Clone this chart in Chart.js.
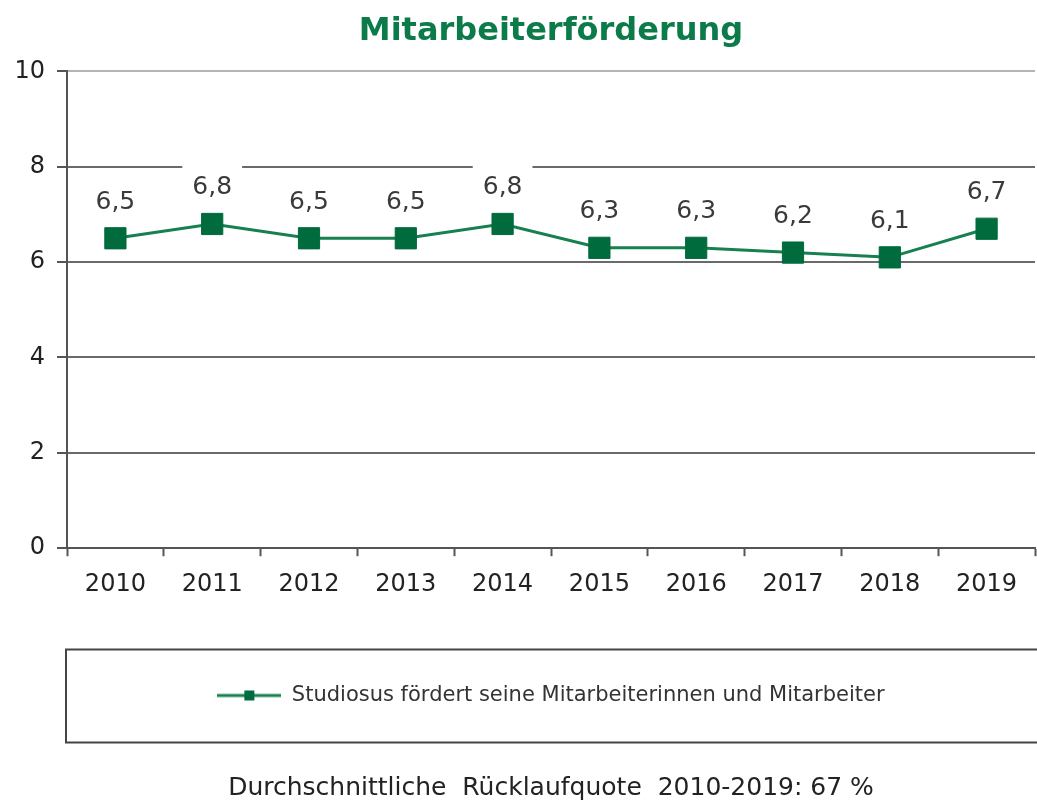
<!DOCTYPE html>
<html>
<head>
<meta charset="utf-8">
<script src="https://cdn.jsdelivr.net/npm/chart.js@4.4.1/dist/chart.umd.min.js"></script>
<style>
  html, body { margin: 0; padding: 0; background: #fff; }
  #wrap { width: 1037px; height: 800px; }
</style>
</head>
<body>
<div id="wrap"><canvas id="g_foerderung"></canvas></div>
<script>
var jahre = ['2010', '2011', '2012', '2013', '2014', '2015', '2016', '2017', '2018', '2019'];
var werte = [6.5, 6.8, 6.5, 6.5, 6.8, 6.3, 6.3, 6.2, 6.1, 6.7];
var yTicks = [0, 2, 4, 6, 8, 10];
var titel = 'Mitarbeiterförderung';
var serieName = 'Studiosus fördert seine Mitarbeiterinnen und Mitarbeiter';
var fusszeile = 'Durchschnittliche  Rücklaufquote  2010-2019: 67 %';

var gruenLinie = '#16804f';
var gruenPunkt = '#006b3d';
var schrift = "'DejaVu Sans', Verdana, sans-serif";

// kleines Legendensymbol: Linie mit Quadrat
var symbol = document.createElement('canvas');
symbol.width = 64;
symbol.height = 12;
var sctx = symbol.getContext('2d');
sctx.strokeStyle = gruenLinie;
sctx.lineWidth = 3;
sctx.beginPath();
sctx.moveTo(0, 6);
sctx.lineTo(64, 6);
sctx.stroke();
sctx.fillStyle = gruenPunkt;
sctx.fillRect(27, 1, 10, 10);

function formatWert(v) {
    return v.toFixed(1).replace('.', ',');
}

// Datenbeschriftung mit weissem Hintergrund
var wertLabels = {
    id: 'wertLabels',
    beforeDatasetsDraw: function(chart) {
        var ctx = chart.ctx;
        var meta = chart.getDatasetMeta(0);
        ctx.save();
        ctx.font = '25px ' + schrift;
        meta.data.forEach(function(pt, i) {
            var txt = formatWert(werte[i]);
            var w = ctx.measureText(txt).width + 20;
            ctx.fillStyle = '#ffffff';
            ctx.fillRect(pt.x - w / 2, pt.y - 36 - 22, w, 44);
        });
        ctx.restore();
    },
    afterDatasetsDraw: function(chart) {
        var ctx = chart.ctx;
        var meta = chart.getDatasetMeta(0);
        ctx.save();
        ctx.font = '25px ' + schrift;
        ctx.fillStyle = '#3a3a3a';
        ctx.textAlign = 'center';
        ctx.textBaseline = 'middle';
        meta.data.forEach(function(pt, i) {
            ctx.fillText(formatWert(werte[i]), pt.x, pt.y - 36);
        });
        ctx.restore();
    },
    afterDraw: function(chart) {
        // Rahmen um die Legende
        var lg = chart.legend;
        if (!lg || !lg.legendHitBoxes.length) return;
        var hb = lg.legendHitBoxes[0];
        var mitte = hb.top + hb.height / 2;
        var ctx = chart.ctx;
        ctx.save();
        ctx.strokeStyle = '#444';
        ctx.lineWidth = 2;
        ctx.strokeRect(chart.chartArea.left - 1, mitte - 46, chart.width, 93);
        ctx.restore();
    }
};

var ctx = document.getElementById('g_foerderung');

var chart = new Chart(ctx, {
    type: 'line',
    data: {
        labels: jahre,
        datasets: [{
            label: serieName,
            data: werte,
            borderColor: gruenLinie,
            borderWidth: 3,
            backgroundColor: gruenPunkt,
            pointStyle: 'rect',
            pointRadius: 15,
            pointHoverRadius: 15,
            pointBorderColor: gruenPunkt,
            pointBorderWidth: 1,
            pointBackgroundColor: gruenPunkt,
            tension: 0,
            fill: false
        }]
    },
    options: {
        responsive: true,
        maintainAspectRatio: false,
        animation: false,
        events: [],
        layout: { autoPadding: false, padding: { left: 0, right: 2, top: 0, bottom: 0 } },
        scales: {
            x: {
                offset: true,
                grid: {
                    offset: true,
                    drawOnChartArea: false,
                    drawTicks: true,
                    tickLength: 8,
                    tickColor: '#555',
                    tickWidth: 2
                },
                border: { color: '#555', width: 2 },
                ticks: {
                    padding: 14,
                    color: '#222',
                    font: { family: schrift, size: 24 }
                }
            },
            y: {
                min: 0,
                max: 10,
                afterBuildTicks: function(scale) {
                    scale.ticks = yTicks.map(function(v) { return { value: v }; });
                },
                afterFit: function(scale) {
                    scale.width = 67;
                },
                grid: {
                    color: function(c) {
                        return c.tick && c.tick.value === 10 ? '#b4b4b4' : '#6a6a6a';
                    },
                    lineWidth: 2,
                    tickLength: 10,
                    tickColor: '#555',
                    tickWidth: 2
                },
                border: { color: '#555', width: 2 },
                ticks: {
                    padding: 12,
                    color: '#222',
                    font: { family: schrift, size: 24 }
                }
            }
        },
        plugins: {
            title: {
                display: true,
                text: titel,
                fullSize: false,
                color: '#0b7b4a',
                font: { family: schrift, size: 32, weight: 'bold' },
                padding: { top: 12, bottom: 21 }
            },
            legend: {
                display: true,
                position: 'bottom',
                fullSize: false,
                labels: {
                    usePointStyle: true,
                    pointStyle: symbol,
                    pointStyleWidth: 64,
                    padding: 72,
                    color: '#333',
                    font: { family: schrift, size: 21 }
                }
            },
            subtitle: {
                display: true,
                position: 'bottom',
                text: fusszeile,
                fullSize: false,
                color: '#222',
                font: { family: schrift, size: 25 },
                padding: { top: 57, bottom: -3 }
            },
            tooltip: { enabled: false }
        }
    },
    plugins: [wertLabels]
});
</script>
</body>
</html>
